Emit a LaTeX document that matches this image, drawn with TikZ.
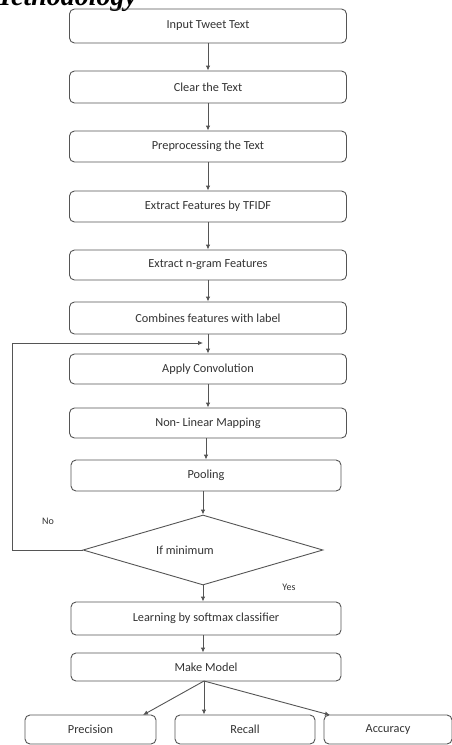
\documentclass[tikz,border=0pt]{standalone}
\usepackage{fontspec}
\setmainfont{Carlito}
\newfontfamily\titlefont{Liberation Serif}
\usetikzlibrary{shapes.geometric,arrows.meta}
\definecolor{ln}{HTML}{555555}
\definecolor{tx}{HTML}{333333}
\begin{document}
\begin{tikzpicture}[x=1pt,y=1pt,
  box/.style={draw=ln,line width=0.9pt,rounded corners=5pt,minimum width=#1,minimum height=31pt,inner sep=0pt,text=tx,font=\fontsize{12.3}{13}\selectfont},
  box/.default=277pt,
  dec/.style={draw=ln,line width=0.9pt,diamond,minimum width=240pt,minimum height=70pt,aspect=3.43,inner sep=0pt,text=tx,font=\fontsize{12.3}{13}\selectfont},
  arr/.style={draw=ln,line width=0.9pt,-{Latex[length=5pt,width=4.5pt]}},
  lbl/.style={text=tx,font=\fontsize{10}{12}\selectfont}]
\useasboundingbox[fill=white] (0,0) rectangle (452,-745);
\node[anchor=base west,inner sep=0pt,font=\titlefont\bfseries\itshape\fontsize{28}{30}\selectfont] (title) at (-14,-5) {Methodology};
\node[box,minimum height=34pt] (b1) at (208,-26) {Input Tweet Text};
\node[box,minimum height=32pt] (b2) at (208,-87) {Clear the Text};
\node[box] (b3) at (208,-146.5) {Preprocessing the Text};
\node[box] (b4) at (208,-206.5) {Extract Features by TFIDF};
\node[box,minimum height=30pt] (b5) at (208,-265) {Extract n-gram Features};
\node[box,minimum height=32pt] (b6) at (208,-318) {Combines features with label};
\node[box,minimum height=30pt] (b7) at (208,-369) {Apply Convolution};
\node[box,minimum height=30pt] (b8) at (208,-423) {Non- Linear Mapping};
\node[box=270pt] (b9) at (206,-475.5) {Pooling};
\node[dec] (dia) at (203,-550) {\hspace*{-36pt}If minimum};
\node[box=270pt,minimum height=33pt] (b10) at (206,-618.5) {Learning by softmax classifier};
\node[box=270pt,minimum height=28pt] (b11) at (206,-667) {Make Model};
\node[box=131pt,minimum height=29pt] (p) at (90.5,-729.5) {Precision};
\node[box=140pt,minimum height=29pt] (r) at (245,-729.5) {Recall};
\node[box=128pt,minimum height=29pt] (a) at (388,-729.5) {Accuracy};
\node[lbl] (no) at (48,-521) {No};
\node[lbl] (yes) at (289,-587) {Yes};
\draw[arr] (b1) -- (b2);
\draw[arr] (b2) -- (b3);
\draw[arr] (b3) -- (b4);
\draw[arr] (b4) -- (b5);
\draw[arr] (b5) -- (b6);
\draw[arr] (b6) -- (b7);
\draw[arr] (b7) -- (b8);
\draw[arr] (b8.south -| b9) -- (b9);
\draw[arr] (b9.south -| dia) -- (dia.north);
\draw[arr] (dia.south) -- (b10.north -| dia);
\draw[arr] (b10.south -| dia) -- (b11.north -| dia);
\coordinate (loopend) at (203,-343);
\draw[arr] (dia.west) -| (12,-343) -- (loopend);
\coordinate (mm) at (204,-681);
\draw[arr] (mm) -- (143,-715);
\draw[arr] (mm) -- (mm |- r.north);
\draw[arr] (mm) -- (330,-715);
\end{tikzpicture}
\end{document}
